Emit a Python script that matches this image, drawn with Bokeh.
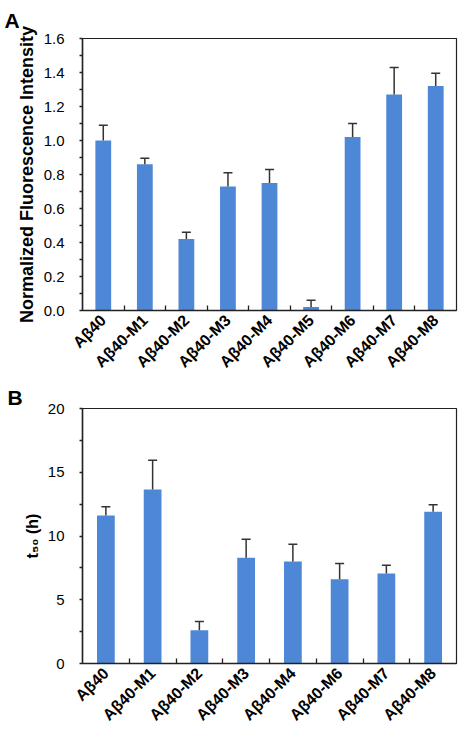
import math
from bokeh.plotting import figure
from bokeh.models import (ColumnDataSource, Whisker, TeeHead, FixedTicker,
                          SingleIntervalTicker, Range1d, NumeralTickFormatter)
from bokeh.layouts import column
from bokeh.embed import file_html
from bokeh.resources import INLINE

# ---- data ----
cats_a = ["Aβ40", "Aβ40-M1", "Aβ40-M2", "Aβ40-M3", "Aβ40-M4", "Aβ40-M5",
          "Aβ40-M6", "Aβ40-M7", "Aβ40-M8"]
vals_a = [1.00, 0.86, 0.42, 0.73, 0.75, 0.02, 1.02, 1.27, 1.32]
errs_a = [0.09, 0.035, 0.04, 0.08, 0.08, 0.04, 0.08, 0.16, 0.075]

cats_b = ["Aβ40", "Aβ40-M1", "Aβ40-M2", "Aβ40-M3", "Aβ40-M4", "Aβ40-M6",
          "Aβ40-M7", "Aβ40-M8"]
vals_b = [11.6, 13.65, 2.6, 8.3, 8.0, 6.6, 7.05, 11.9]
errs_b = [0.7, 2.3, 0.7, 1.45, 1.35, 1.25, 0.65, 0.55]

BAR = "#4F87D7"
FONT = "Liberation Sans"
W = 458
BL, BR = 82, 2


def make_panel(cats, vals, errs, ymax, yint, fmt, ylabel, ylabel_size, letter,
               height, btop, bbot, lx, lstandoff):
    n = len(cats)
    xs = list(range(1, n + 1))
    src = ColumnDataSource(dict(x=xs, top=vals,
                                upper=[v + e for v, e in zip(vals, errs)]))
    p = figure(width=W, height=height, output_backend="svg",
               toolbar_location=None, x_range=Range1d(0.5, n + 0.5),
               y_range=Range1d(0, ymax),
               min_border_left=BL, min_border_right=BR,
               min_border_top=btop, min_border_bottom=bbot)
    p.xgrid.visible = False
    p.ygrid.visible = False
    p.outline_line_color = "#222222"
    p.outline_line_width = 1.2
    p.background_fill_color = "white"
    p.border_fill_color = "white"

    # panel letter as the title
    p.title.text = letter
    p.title.align = "left"
    p.title.offset = lx - BL
    p.title.standoff = lstandoff
    p.title.text_font = FONT
    p.title.text_font_style = "bold"
    p.title.text_font_size = "21px"
    p.title.text_color = "black"

    p.vbar(x="x", top="top", width=0.38, source=src, fill_color=BAR,
           line_color=None)
    w = Whisker(source=src, base="x", upper="upper", lower="top",
                upper_head=TeeHead(size=9, line_color="#333333", line_width=1.5),
                lower_head=None, line_color="#333333", line_width=1.5,
                level="overlay")
    p.add_layout(w)

    # x axis
    xa = p.xaxis[0]
    xa.ticker = FixedTicker(ticks=xs, minor_ticks=[x + 0.5 for x in xs[:-1]])
    xa.major_label_overrides = {x: c for x, c in zip(xs, cats)}
    xa.major_label_orientation = math.pi / 4
    xa.major_tick_line_color = None
    xa.major_tick_in = 0
    xa.major_tick_out = 0
    xa.minor_tick_in = 5
    xa.minor_tick_out = 0
    xa.minor_tick_line_color = "#222222"
    xa.minor_tick_line_width = 1.3
    xa.major_label_standoff = 7
    xa.major_label_text_font = FONT
    xa.major_label_text_font_style = "bold"
    xa.major_label_text_font_size = "16px"
    xa.major_label_text_color = "black"
    xa.axis_line_color = "#222222"
    xa.axis_line_width = 1.5

    # y axis
    ya = p.yaxis[0]
    ya.ticker = SingleIntervalTicker(interval=yint, num_minor_ticks=2)
    ya.formatter = NumeralTickFormatter(format=fmt)
    ya.major_tick_line_color = None
    ya.major_tick_in = 0
    ya.major_tick_out = 0
    ya.minor_tick_in = 0
    ya.minor_tick_out = 3
    ya.minor_tick_line_color = "#222222"
    ya.minor_tick_line_width = 1.3
    ya.major_label_standoff = 15
    ya.major_label_text_font = FONT
    ya.major_label_text_font_size = "15px"
    ya.major_label_text_color = "black"
    ya.axis_line_color = "#222222"
    ya.axis_line_width = 1.5
    ya.axis_label = ylabel
    ya.axis_label_text_font = FONT
    ya.axis_label_text_font_style = "bold"
    ya.axis_label_text_font_size = ylabel_size
    ya.axis_label_text_color = "black"
    ya.axis_label_standoff = 4
    return p


pA = make_panel(cats_a, vals_a, errs_a, 1.6, 0.2, "0.0",
                "Normalized Fluorescence Intensity", "18px", "A",
                383, 37, 73, 4, 13)
pB = make_panel(cats_b, vals_b, errs_b, 20, 5, "0", "t₅₀ (h)", "16px", "B",
                362, 24, 82, 7, 0)

layout = column(pA, pB, spacing=0)
open("out.html", "w").write(file_html(layout, INLINE))
